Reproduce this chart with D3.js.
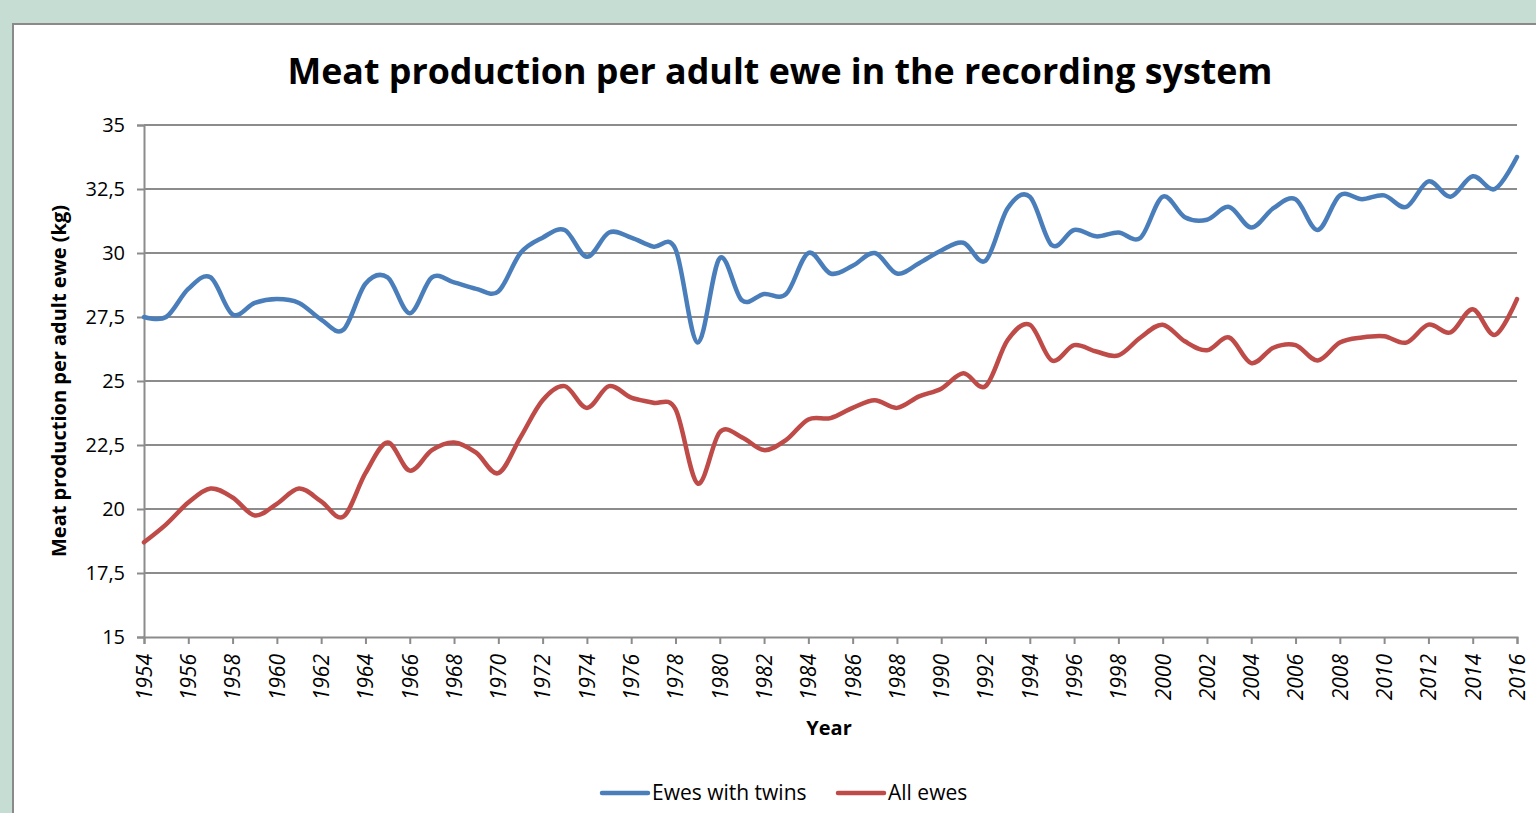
<!DOCTYPE html>
<html><head><meta charset="utf-8">
<script src="https://cdn.jsdelivr.net/npm/d3@7/dist/d3.min.js"></script>
<style>
html,body{margin:0;padding:0;background:#c6ddd4;overflow:hidden;}
svg{display:block;}
text{font-family:"Open Sans","DejaVu Sans",sans-serif;fill:#000;}
</style></head><body>
<svg id="c" width="1536" height="813"></svg>
<script>
const years = d3.range(1954, 2017);
const ewesWithTwins = [27.5,27.5,28.6,29.05,27.6,28.05,28.2,28.05,27.4,27.0,
  28.8,29.05,27.65,29.05,28.85,28.6,28.5,30.0,30.6,30.9,
  29.85,30.8,30.6,30.25,30.15,26.5,29.8,28.15,28.4,28.4,
  30.0,29.2,29.5,30.0,29.2,29.6,30.1,30.4,29.7,31.75,
  32.2,30.3,30.9,30.65,30.8,30.6,32.2,31.4,31.3,31.8,
  31.0,31.75,32.1,30.9,32.25,32.1,32.25,31.8,32.8,32.2,
  33.0,32.5,33.75];
const allEwes = [18.7,19.4,20.25,20.8,20.45,19.75,20.2,20.8,20.3,19.7,
  21.4,22.6,21.5,22.3,22.6,22.2,21.4,22.8,24.25,24.8,
  23.95,24.8,24.35,24.15,23.9,21.0,23.0,22.8,22.3,22.7,
  23.5,23.55,23.95,24.25,23.95,24.4,24.7,25.3,24.8,26.6,
  27.2,25.8,26.4,26.15,26.0,26.7,27.2,26.55,26.2,26.7,
  25.7,26.3,26.4,25.8,26.5,26.7,26.75,26.5,27.2,26.9,
  27.8,26.8,28.2];
const yTicks = [15,17.5,20,22.5,25,27.5,30,32.5,35];
const xTicks = d3.range(1954, 2017, 2);
const seriesNames = ["Ewes with twins","All ewes"];
const colors = ["#4a7ebb","#be4b48"];

const svg = d3.select("#c");
// panel
svg.append("rect").attr("x",13).attr("y",24).attr("width",1540).attr("height",820)
  .attr("fill","#fff").attr("stroke","#8a8a8a").attr("stroke-width",2);

const x = d3.scaleLinear().domain([1954,2016]).range([144,1517]);
const y = d3.scaleLinear().domain([15,35]).range([637,125]);
const gridColor = "#8c8c8c";

// gridlines
svg.append("g").selectAll("line").data(yTicks.slice(1)).join("line")
  .attr("x1",144).attr("x2",1517).attr("y1",d=>y(d)).attr("y2",d=>y(d))
  .attr("stroke",gridColor).attr("stroke-width",2);

const fmt = d => String(d).replace(".",",");
// y axis
const yAxis = svg.append("g").attr("transform","translate(144,0)")
  .call(d3.axisLeft(y).tickValues(yTicks).tickFormat(fmt).tickSize(7).tickPadding(12));
yAxis.select(".domain").attr("stroke",gridColor).attr("stroke-width",2);
yAxis.selectAll(".tick line").attr("stroke",gridColor).attr("stroke-width",2);
yAxis.selectAll("text").attr("font-size",20).attr("fill","#000").attr("font-family","Open Sans");

// x axis
const xAxis = svg.append("g").attr("transform","translate(0,637)")
  .call(d3.axisBottom(x).tickValues(xTicks).tickFormat(d3.format("d")).tickSize(7).tickPadding(0));
xAxis.select(".domain").attr("stroke",gridColor).attr("stroke-width",2);
xAxis.selectAll(".tick line").attr("stroke",gridColor).attr("stroke-width",2);
xAxis.selectAll("text").attr("font-size",21).attr("fill","#000").attr("font-family","Open Sans")
  .attr("font-style","italic")
  .attr("transform","rotate(-90)").attr("text-anchor","end").attr("dy","0.35em")
  .attr("x",-17).attr("y",0);

// lines
const line = d3.line().x((d,i)=>x(years[i])).y(d=>y(d)).curve(d3.curveCardinal.tension(0));
[ewesWithTwins, allEwes].forEach((s,k)=>{
  svg.append("path").datum(s).attr("d",line).attr("fill","none")
    .attr("stroke",colors[k]).attr("stroke-width",4.5).attr("stroke-linejoin","round").attr("stroke-linecap","round");
});

// title
svg.append("text").attr("x",780).attr("y",84).attr("text-anchor","middle")
  .attr("font-size",35).attr("font-weight","bold").attr("textLength",985).attr("lengthAdjust","spacingAndGlyphs")
  .text("Meat production per adult ewe in the recording system");

// axis titles
svg.append("text").attr("transform","translate(66,381) rotate(-90)").attr("text-anchor","middle")
  .attr("font-size",19).attr("font-weight","bold").attr("textLength",352).attr("lengthAdjust","spacingAndGlyphs")
  .text("Meat production per adult ewe (kg)");
svg.append("text").attr("x",829).attr("y",735).attr("text-anchor","middle")
  .attr("font-size",20).attr("font-weight","bold").text("Year");

// legend
const legX = [600, 836];
seriesNames.forEach((n,k)=>{
  svg.append("line").attr("x1",legX[k]+2).attr("x2",legX[k]+48).attr("y1",793).attr("y2",793)
    .attr("stroke",colors[k]).attr("stroke-width",4.5).attr("stroke-linecap","round");
  svg.append("text").attr("x",legX[k]+52).attr("y",800).attr("font-size",21).text(n);
});
</script>
</body></html>
